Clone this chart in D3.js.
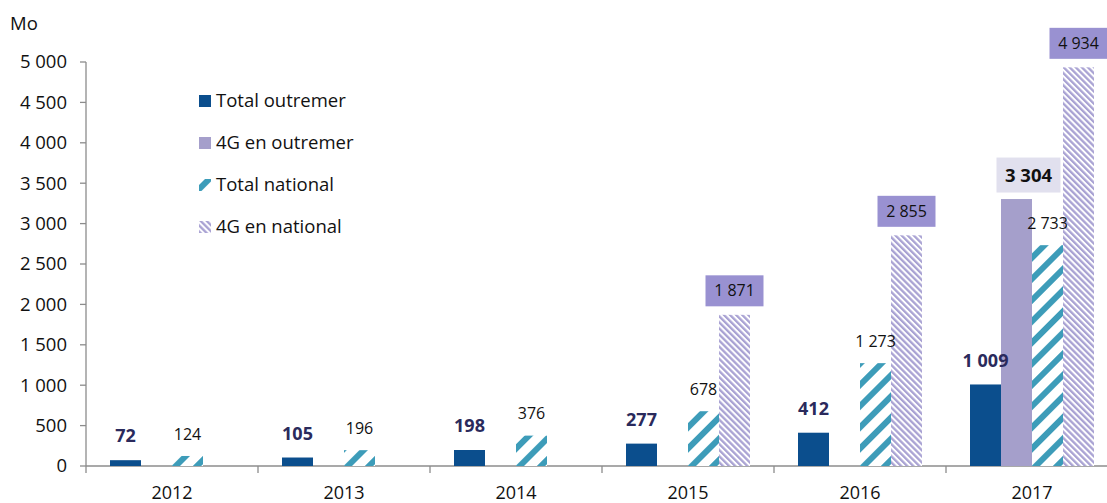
<!DOCTYPE html>
<html>
<head>
<meta charset="utf-8">
<script src="https://cdn.jsdelivr.net/npm/d3@7"></script>
<style>
  body { margin: 0; background: #fff; }
  svg text { font-family: "Open Sans", sans-serif; }
</style>
</head>
<body>
<svg width="1107" height="503"></svg>
<script>
var years = ["2012", "2013", "2014", "2015", "2016", "2017"];
var seriesNames = ["Total outremer", "4G en outremer", "Total national", "4G en national"];
var totalOutremer = [72, 105, 198, 277, 412, 1009];
var g4Outremer = [null, null, null, null, null, 3304];
var totalNational = [124, 196, 376, 678, 1273, 2733];
var g4National = [null, null, null, 1871, 2855, 4934];
var yTicks = [0, 500, 1000, 1500, 2000, 2500, 3000, 3500, 4000, 4500, 5000];

var svg = d3.select("svg"),
    width = +svg.attr("width"),
    height = +svg.attr("height");

var fmt = function(v) { return d3.format(",")(v).replace(/,/g, " "); };

// patterns
var defs = svg.append("defs");
var p1 = defs.append("pattern").attr("id", "natTotal")
    .attr("patternUnits", "userSpaceOnUse").attr("width", 15).attr("height", 15)
    .attr("patternTransform", "rotate(45)");
p1.append("rect").attr("width", 15).attr("height", 15).attr("fill", "#fff");
p1.append("rect").attr("width", 6).attr("height", 15).attr("fill", "#3d9cb9");

var p2 = defs.append("pattern").attr("id", "nat4g")
    .attr("patternUnits", "userSpaceOnUse").attr("width", 4.3).attr("height", 4.3)
    .attr("patternTransform", "rotate(-45)");
p2.append("rect").attr("width", 4.3).attr("height", 4.3).attr("fill", "#fff");
p2.append("rect").attr("width", 2.3).attr("height", 4.3).attr("fill", "#a9a2d3");

var fills = ["#0b4e8d", "#a59fcb", "url(#natTotal)", "url(#nat4g)"];

var x0 = d3.scaleBand().domain(years).range([86, 1118]);
var x1 = d3.scaleBand().domain(d3.range(4)).range([24, 148]);
var y = d3.scaleLinear().domain([0, 5000]).range([466, 62]);

var rows = years.map(function(yr, i) {
  return { year: yr, vals: [totalOutremer[i], g4Outremer[i], totalNational[i], g4National[i]] };
});

// axes
var axis = svg.append("g").attr("stroke", "#8c8c8c").attr("stroke-width", 1.3);
axis.append("line").attr("x1", 86).attr("x2", 86).attr("y1", y(5000)).attr("y2", y(0));
axis.append("line").attr("x1", 86).attr("x2", width).attr("y1", y(0)).attr("y2", y(0));
axis.selectAll(".yt").data(yTicks).enter().append("line")
    .attr("x1", 80).attr("x2", 86)
    .attr("y1", function(d) { return y(d); }).attr("y2", function(d) { return y(d); });
axis.selectAll(".xt").data(years).enter().append("line")
    .attr("x1", function(d) { return x0(d); }).attr("x2", function(d) { return x0(d); })
    .attr("y1", y(0)).attr("y2", y(0) + 7);

svg.selectAll(".ylab").data(yTicks).enter().append("text")
    .attr("x", 67).attr("y", function(d) { return y(d); })
    .attr("dy", "0.35em").attr("text-anchor", "end")
    .attr("font-size", 18.5).attr("fill", "#111").text(fmt);

svg.selectAll(".xlab").data(years).enter().append("text")
    .attr("x", function(d) { return x0(d) + x0.bandwidth() / 2; })
    .attr("y", 499).attr("text-anchor", "middle")
    .attr("font-size", 18).attr("fill", "#111").text(function(d) { return d; });

svg.append("text").attr("x", 10).attr("y", 24).attr("dy", "0.35em")
    .attr("font-size", 18.5).attr("fill", "#111").text("Mo");

// bars
var groups = svg.selectAll(".grp").data(rows).enter().append("g")
    .attr("transform", function(d) { return "translate(" + x0(d.year) + ",0)"; });

groups.selectAll("rect").data(function(d) {
    return d.vals.map(function(v, k) { return { k: k, v: v }; }).filter(function(e) { return e.v != null; });
  }).enter().append("rect")
    .attr("x", function(d) { return x1(d.k); })
    .attr("width", x1.bandwidth())
    .attr("y", function(d) { return y(d.v); })
    .attr("height", function(d) { return y(0) - y(d.v); })
    .attr("fill", function(d) { return fills[d.k]; });

// labels
groups.each(function(d) {
  var g = d3.select(this);
  d.vals.forEach(function(v, k) {
    if (v == null) return;
    var cx = x1(k) + x1.bandwidth() / 2;
    var cy = y(v) - 24;
    if (k === 3) {
      g.append("rect").attr("x", cx - 29).attr("y", cy - 15.5)
        .attr("width", 58).attr("height", 31).attr("fill", "#9991d1");
      g.append("text").attr("x", cx).attr("y", cy).attr("dy", "0.35em")
        .attr("text-anchor", "middle").attr("font-size", 16).attr("fill", "#111").text(fmt(v));
    } else if (k === 1) {
      cx += 12;
      g.append("rect").attr("x", cx - 32).attr("y", cy - 17.5)
        .attr("width", 64).attr("height", 35).attr("fill", "#e1e0ee");
      g.append("text").attr("x", cx).attr("y", cy).attr("dy", "0.35em")
        .attr("text-anchor", "middle").attr("font-size", 18.5).attr("font-weight", "bold")
        .attr("fill", "#111").text(fmt(v));
    } else if (k === 0) {
      g.append("text").attr("x", cx).attr("y", cy).attr("dy", "0.35em")
        .attr("text-anchor", "middle").attr("font-size", 18).attr("font-weight", "bold")
        .attr("fill", "#2a2a5c").text(fmt(v));
    } else {
      g.append("text").attr("x", cx).attr("y", cy + 2).attr("dy", "0.35em")
        .attr("text-anchor", "middle").attr("font-size", 16).attr("fill", "#111").text(fmt(v));
    }
  });
});

// legend
var legend = svg.selectAll(".leg").data(seriesNames).enter().append("g")
    .attr("transform", function(d, i) { return "translate(199," + (101 + i * 42) + ")"; });
legend.append("rect").attr("x", 0).attr("y", -6).attr("width", 12).attr("height", 12)
    .attr("fill", function(d, i) { return fills[i]; });
legend.append("text").attr("x", 17).attr("y", 0).attr("dy", "0.35em")
    .attr("font-size", 18.5).attr("fill", "#111").text(function(d) { return d; });
</script>
</body>
</html>
